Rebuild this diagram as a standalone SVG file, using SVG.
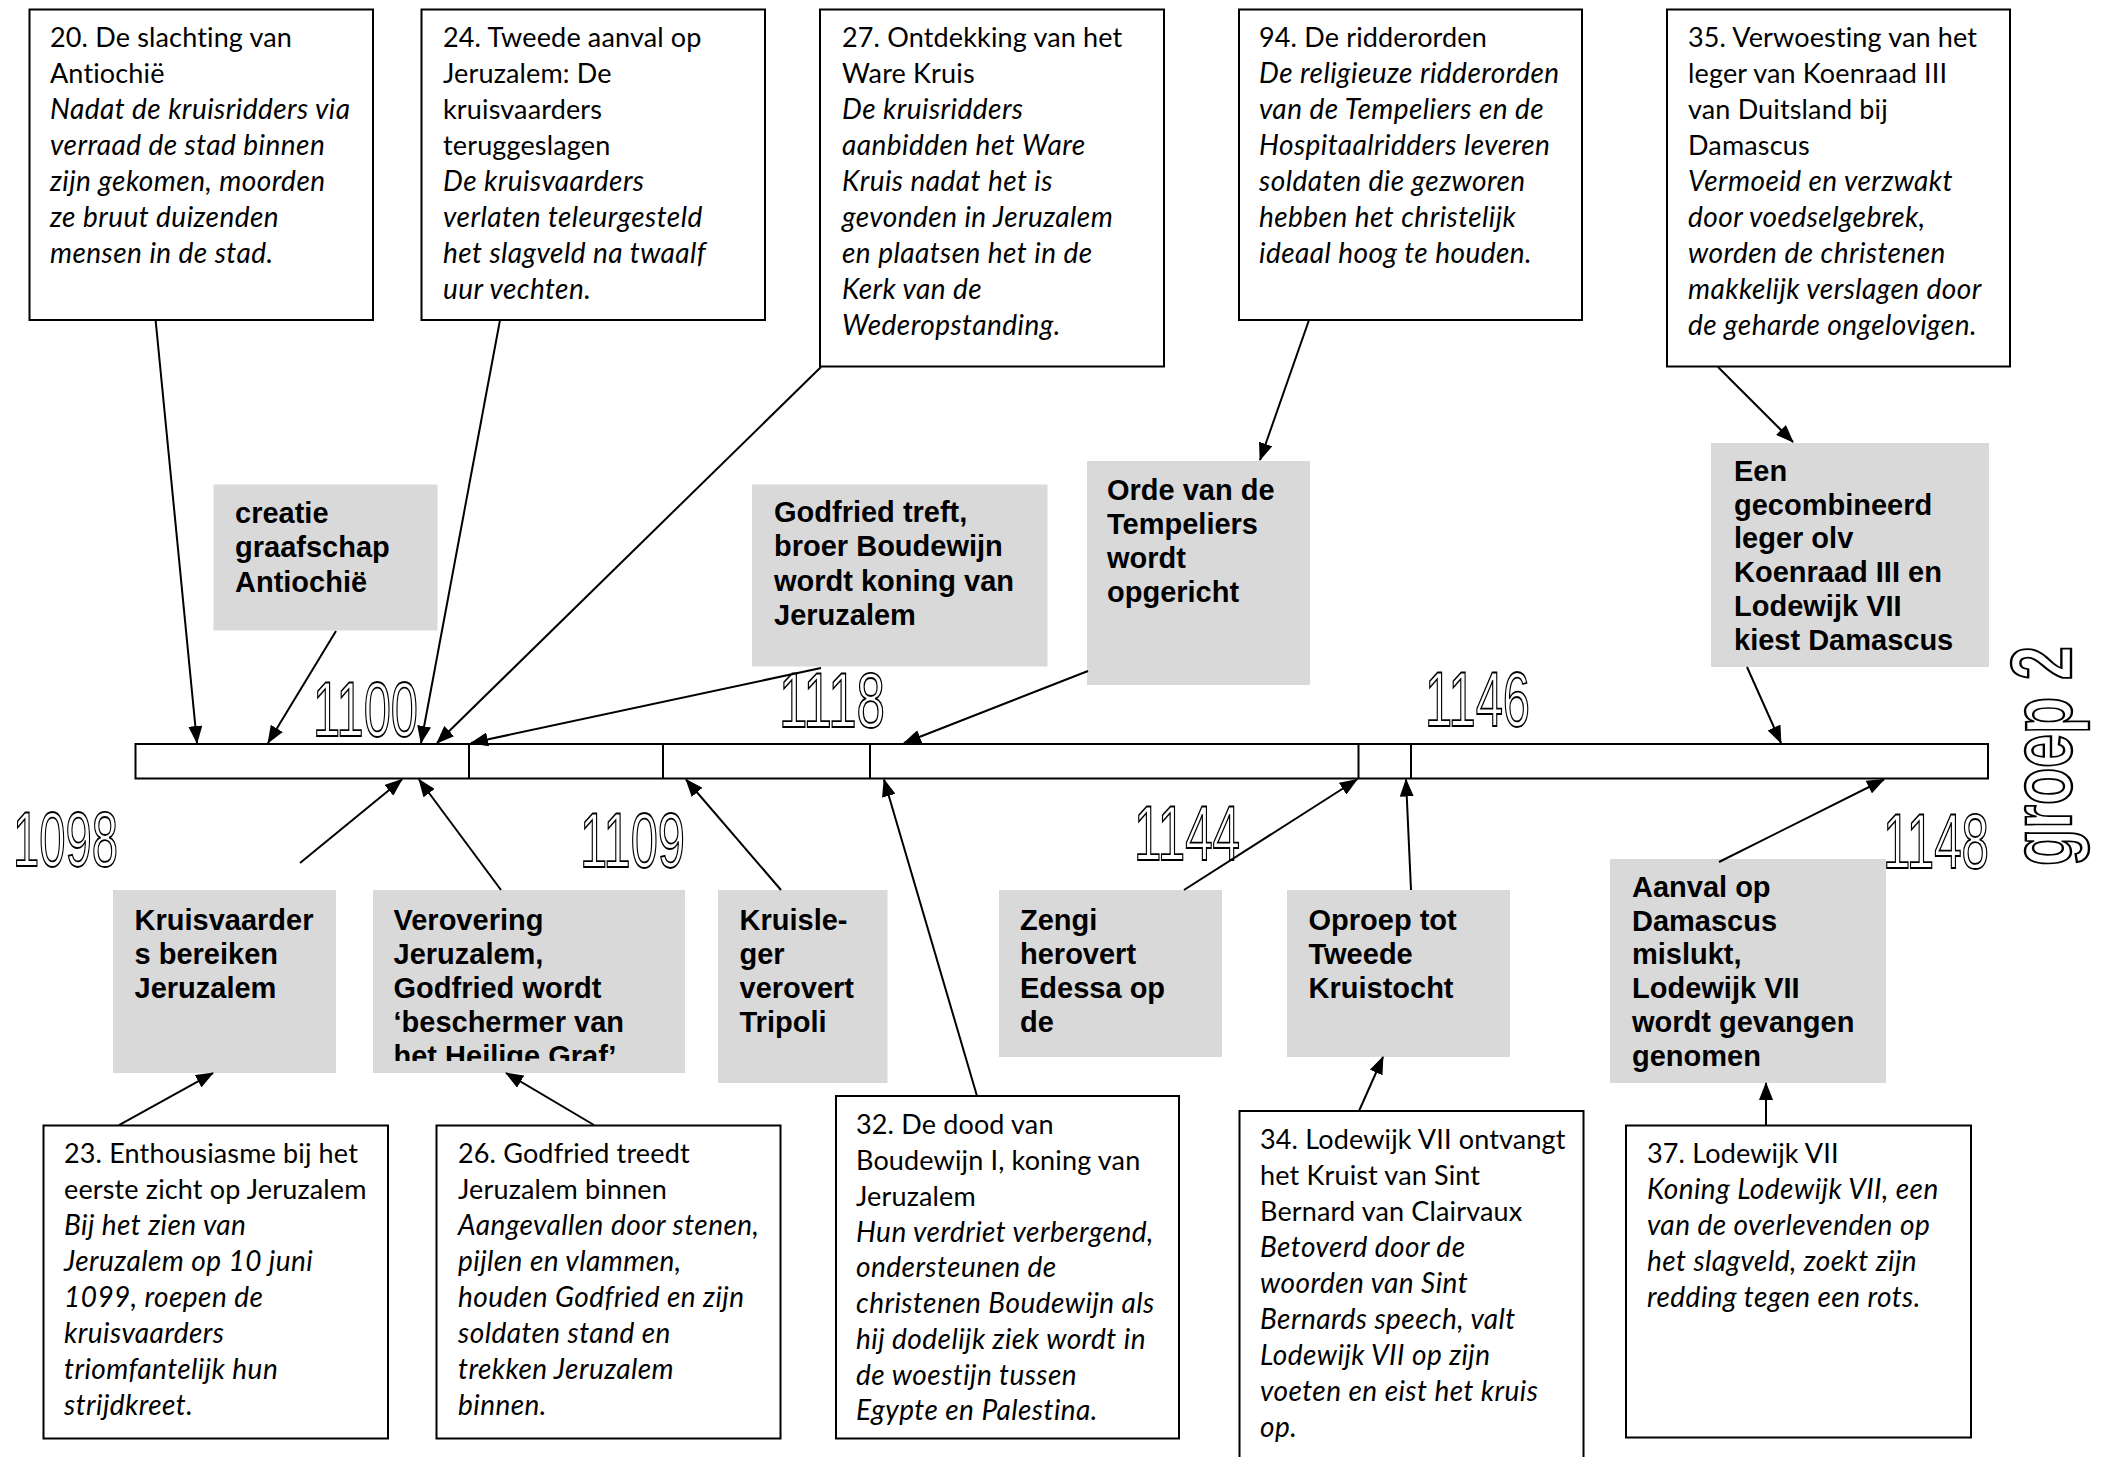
<svg xmlns="http://www.w3.org/2000/svg" width="2105" height="1457" viewBox="0 0 2105 1457">
<style>
.box{fill:#fff;stroke:#000;stroke-width:2}
.gbox{fill:#d9d9d9}
.t{font-family:Lato,"Noto Sans",sans-serif;font-size:27px;letter-spacing:0.15px;fill:#000}
.i{font-style:italic;font-size:28px;letter-spacing:0.45px}
.b{font-family:"Liberation Sans",Arial,sans-serif;font-weight:bold;font-size:29px;fill:#000}
.yr{font-family:"Liberation Sans",Arial,sans-serif;font-size:78px;fill:#fff;stroke:#000;stroke-width:1.8}
.c{stroke:#000;stroke-width:2;fill:none;marker-end:url(#ah)}
</style>
<defs>
<marker id="ah" markerUnits="userSpaceOnUse" markerWidth="18" markerHeight="14" refX="17" refY="7" orient="auto">
<path d="M0,0 L18,7 L0,14 z" fill="#000"/>
</marker>
<clipPath id="clipVer"><rect x="373" y="890" width="312" height="171"/></clipPath>
</defs>
<rect width="2105" height="1457" fill="#fff"/>

<g id="timeline">
<rect x="135.5" y="744" width="1852.5" height="34.5" fill="#fff" stroke="#000" stroke-width="2"/>
<line x1="469" y1="744" x2="469" y2="778.5" stroke="#000" stroke-width="2"/>
<line x1="663" y1="744" x2="663" y2="778.5" stroke="#000" stroke-width="2"/>
<line x1="870" y1="744" x2="870" y2="778.5" stroke="#000" stroke-width="2"/>
<line x1="1358.5" y1="744" x2="1358.5" y2="778.5" stroke="#000" stroke-width="2"/>
<line x1="1411" y1="744" x2="1411" y2="778.5" stroke="#000" stroke-width="2"/>
</g>

<g id="years">
<text class="yr" x="13" y="866" textLength="105" lengthAdjust="spacingAndGlyphs">1098</text>
<text class="yr" x="313" y="735.5" textLength="105" lengthAdjust="spacingAndGlyphs">1100</text>
<text class="yr" x="580" y="867" textLength="105" lengthAdjust="spacingAndGlyphs">1109</text>
<text class="yr" x="779" y="726.5" textLength="106" lengthAdjust="spacingAndGlyphs">1118</text>
<text class="yr" x="1134" y="859.5" textLength="106" lengthAdjust="spacingAndGlyphs">1144</text>
<text class="yr" x="1425" y="726" textLength="105" lengthAdjust="spacingAndGlyphs">1146</text>
<text class="yr" x="1883" y="868" textLength="106" lengthAdjust="spacingAndGlyphs">1148</text>
<text transform="translate(2071,866) rotate(-90)" x="0" y="0" textLength="220" lengthAdjust="spacingAndGlyphs" style="font-family:'Liberation Sans',Arial,sans-serif;font-weight:bold;font-size:86px;fill:#fff;stroke:#000;stroke-width:2.4">groep 2</text>
</g>

<g id="box20">
<rect class="box" x="29.5" y="9.5" width="343.5" height="310.5"/>
<text class="t"><tspan x="50" y="47">20. De slachting van</tspan><tspan x="50" y="83">Antiochië</tspan><tspan class="i" x="50" y="119">Nadat de kruisridders via</tspan><tspan class="i" x="50" y="155">verraad de stad binnen</tspan><tspan class="i" x="50" y="191">zijn gekomen, moorden</tspan><tspan class="i" x="50" y="227">ze bruut duizenden</tspan><tspan class="i" x="50" y="263">mensen in de stad.</tspan></text>
</g>
<g id="box24">
<rect class="box" x="421.5" y="9.5" width="343.5" height="310.5"/>
<text class="t"><tspan x="443" y="47">24. Tweede aanval op</tspan><tspan x="443" y="83">Jeruzalem: De</tspan><tspan x="443" y="119">kruisvaarders</tspan><tspan x="443" y="155">teruggeslagen</tspan><tspan class="i" x="443" y="191">De kruisvaarders</tspan><tspan class="i" x="443" y="227">verlaten teleurgesteld</tspan><tspan class="i" x="443" y="263">het slagveld na twaalf</tspan><tspan class="i" x="443" y="299">uur vechten.</tspan></text>
</g>
<g id="box27">
<rect class="box" x="820" y="9.5" width="344" height="357"/>
<text class="t"><tspan x="842" y="47">27. Ontdekking van het</tspan><tspan x="842" y="83">Ware Kruis</tspan><tspan class="i" x="842" y="119">De kruisridders</tspan><tspan class="i" x="842" y="155">aanbidden het Ware</tspan><tspan class="i" x="842" y="191">Kruis nadat het is</tspan><tspan class="i" x="842" y="227">gevonden in Jeruzalem</tspan><tspan class="i" x="842" y="263">en plaatsen het in de</tspan><tspan class="i" x="842" y="299">Kerk van de</tspan><tspan class="i" x="842" y="335">Wederopstanding.</tspan></text>
</g>
<g id="box94">
<rect class="box" x="1239" y="9.5" width="343" height="310.5"/>
<text class="t"><tspan x="1259" y="47">94. De ridderorden</tspan><tspan class="i" x="1259" y="83">De religieuze ridderorden</tspan><tspan class="i" x="1259" y="119">van de Tempeliers en de</tspan><tspan class="i" x="1259" y="155">Hospitaalridders leveren</tspan><tspan class="i" x="1259" y="191">soldaten die gezworen</tspan><tspan class="i" x="1259" y="227">hebben het christelijk</tspan><tspan class="i" x="1259" y="263">ideaal hoog te houden.</tspan></text>
</g>
<g id="box35">
<rect class="box" x="1667" y="9.5" width="343" height="357"/>
<text class="t"><tspan x="1688" y="47">35. Verwoesting van het</tspan><tspan x="1688" y="83">leger van Koenraad III</tspan><tspan x="1688" y="119">van Duitsland bij</tspan><tspan x="1688" y="155">Damascus</tspan><tspan class="i" x="1688" y="191">Vermoeid en verzwakt</tspan><tspan class="i" x="1688" y="227">door voedselgebrek,</tspan><tspan class="i" x="1688" y="263">worden de christenen</tspan><tspan class="i" x="1688" y="299">makkelijk verslagen door</tspan><tspan class="i" x="1688" y="335">de geharde ongelovigen.</tspan></text>
</g>

<g id="creatie">
<rect class="gbox" x="213.5" y="484.5" width="224" height="146"/>
<text class="b"><tspan x="235" y="522.5">creatie</tspan><tspan x="235" y="557">graafschap</tspan><tspan x="235" y="591.5">Antiochië</tspan></text>
</g>
<g id="godfried">
<rect class="gbox" x="752" y="484.5" width="295.5" height="182"/>
<text class="b"><tspan x="774" y="521.5">Godfried treft,</tspan><tspan x="774" y="556">broer Boudewijn</tspan><tspan x="774" y="590.5">wordt koning van</tspan><tspan x="774" y="625">Jeruzalem</tspan></text>
</g>
<g id="orde">
<rect class="gbox" x="1087" y="461" width="223" height="224"/>
<text class="b"><tspan x="1107" y="499.5">Orde van de</tspan><tspan x="1107" y="533.5">Tempeliers</tspan><tspan x="1107" y="567.5">wordt</tspan><tspan x="1107" y="601.5">opgericht</tspan></text>
</g>
<g id="een">
<rect class="gbox" x="1711" y="443" width="278" height="224"/>
<text class="b"><tspan x="1734" y="481">Een</tspan><tspan x="1734" y="514.7">gecombineerd</tspan><tspan x="1734" y="548.4">leger olv</tspan><tspan x="1734" y="582.1">Koenraad III en</tspan><tspan x="1734" y="615.8">Lodewijk VII</tspan><tspan x="1734" y="649.5">kiest Damascus</tspan></text>
</g>

<g id="kruisvaarders">
<rect class="gbox" x="113" y="890" width="223" height="183"/>
<text class="b"><tspan x="134.5" y="930">Kruisvaarder</tspan><tspan x="134.5" y="964">s bereiken</tspan><tspan x="134.5" y="998">Jeruzalem</tspan></text>
</g>
<g id="verovering">
<rect class="gbox" x="373" y="890" width="312" height="183"/>
<text class="b" clip-path="url(#clipVer)"><tspan x="393.5" y="930">Verovering</tspan><tspan x="393.5" y="964">Jeruzalem,</tspan><tspan x="393.5" y="998">Godfried wordt</tspan><tspan x="393.5" y="1032">‘beschermer van</tspan><tspan x="393.5" y="1066">het Heilige Graf’</tspan></text>
</g>
<g id="kruisleger">
<rect class="gbox" x="718" y="890" width="169.5" height="193"/>
<text class="b"><tspan x="739.5" y="930">Kruisle-</tspan><tspan x="739.5" y="964">ger</tspan><tspan x="739.5" y="998">verovert</tspan><tspan x="739.5" y="1032">Tripoli</tspan></text>
</g>
<g id="zengi">
<rect class="gbox" x="999" y="890" width="223" height="167"/>
<text class="b"><tspan x="1020" y="930">Zengi</tspan><tspan x="1020" y="964">herovert</tspan><tspan x="1020" y="998">Edessa op</tspan><tspan x="1020" y="1032">de</tspan></text>
</g>
<g id="oproep">
<rect class="gbox" x="1287" y="890" width="223" height="167"/>
<text class="b"><tspan x="1308.5" y="930">Oproep tot</tspan><tspan x="1308.5" y="964">Tweede</tspan><tspan x="1308.5" y="998">Kruistocht</tspan></text>
</g>
<g id="aanval">
<rect class="gbox" x="1610" y="859" width="276" height="224"/>
<text class="b"><tspan x="1632" y="897">Aanval op</tspan><tspan x="1632" y="930.7">Damascus</tspan><tspan x="1632" y="964.4">mislukt,</tspan><tspan x="1632" y="998.1">Lodewijk VII</tspan><tspan x="1632" y="1031.8">wordt gevangen</tspan><tspan x="1632" y="1065.5">genomen</tspan></text>
</g>

<g id="box23">
<rect class="box" x="43.5" y="1125.5" width="344.5" height="313"/>
<text class="t"><tspan x="64" y="1163">23. Enthousiasme bij het</tspan><tspan x="64" y="1199">eerste zicht op Jeruzalem</tspan><tspan class="i" x="64" y="1235">Bij het zien van</tspan><tspan class="i" x="64" y="1271">Jeruzalem op 10 juni</tspan><tspan class="i" x="64" y="1307">1099, roepen de</tspan><tspan class="i" x="64" y="1343">kruisvaarders</tspan><tspan class="i" x="64" y="1379">triomfantelijk hun</tspan><tspan class="i" x="64" y="1415">strijdkreet.</tspan></text>
</g>
<g id="box26">
<rect class="box" x="436.5" y="1125.5" width="344" height="313"/>
<text class="t"><tspan x="458" y="1163">26. Godfried treedt</tspan><tspan x="458" y="1199">Jeruzalem binnen</tspan><tspan class="i" x="458" y="1235">Aangevallen door stenen,</tspan><tspan class="i" x="458" y="1271">pijlen en vlammen,</tspan><tspan class="i" x="458" y="1307">houden Godfried en zijn</tspan><tspan class="i" x="458" y="1343">soldaten stand en</tspan><tspan class="i" x="458" y="1379">trekken Jeruzalem</tspan><tspan class="i" x="458" y="1415">binnen.</tspan></text>
</g>
<g id="box32">
<rect class="box" x="836" y="1096" width="343" height="342.5"/>
<text class="t"><tspan x="856" y="1134">32. De dood van</tspan><tspan x="856" y="1170">Boudewijn I, koning van</tspan><tspan x="856" y="1206">Jeruzalem</tspan><tspan class="i" x="856" y="1242">Hun verdriet verbergend,</tspan><tspan class="i" x="856" y="1277">ondersteunen de</tspan><tspan class="i" x="856" y="1313">christenen Boudewijn als</tspan><tspan class="i" x="856" y="1349">hij dodelijk ziek wordt in</tspan><tspan class="i" x="856" y="1385">de woestijn tussen</tspan><tspan class="i" x="856" y="1420">Egypte en Palestina.</tspan></text>
</g>
<g id="box34">
<rect class="box" x="1239.5" y="1111" width="344" height="360"/>
<text class="t"><tspan x="1260" y="1149">34. Lodewijk VII ontvangt</tspan><tspan x="1260" y="1185">het Kruist van Sint</tspan><tspan x="1260" y="1221">Bernard van Clairvaux</tspan><tspan class="i" x="1260" y="1257">Betoverd door de</tspan><tspan class="i" x="1260" y="1293">woorden van Sint</tspan><tspan class="i" x="1260" y="1329">Bernards speech, valt</tspan><tspan class="i" x="1260" y="1365">Lodewijk VII op zijn</tspan><tspan class="i" x="1260" y="1401">voeten en eist het kruis</tspan><tspan class="i" x="1260" y="1437">op.</tspan></text>
</g>
<g id="box37">
<rect class="box" x="1626" y="1125.5" width="345" height="312"/>
<text class="t"><tspan x="1647" y="1163">37. Lodewijk VII</tspan><tspan class="i" x="1647" y="1199">Koning Lodewijk VII, een</tspan><tspan class="i" x="1647" y="1235">van de overlevenden op</tspan><tspan class="i" x="1647" y="1271">het slagveld, zoekt zijn</tspan><tspan class="i" x="1647" y="1307">redding tegen een rots.</tspan></text>
</g>

<g id="connectors">
<line class="c" x1="155.6" y1="320" x2="197" y2="743"/>
<line class="c" x1="336" y1="631" x2="268" y2="743"/>
<line class="c" x1="500" y1="320" x2="421" y2="743"/>
<line class="c" x1="821" y1="367" x2="437" y2="743"/>
<line class="c" x1="821" y1="668" x2="471" y2="743"/>
<line class="c" x1="1088" y1="671" x2="904" y2="743"/>
<line class="c" x1="1309" y1="320" x2="1260" y2="460"/>
<line class="c" x1="1718" y1="367" x2="1793" y2="442"/>
<line class="c" x1="1747" y1="667" x2="1781" y2="743"/>
<line class="c" x1="300" y1="863" x2="402" y2="779.5"/>
<line class="c" x1="501" y1="890" x2="419" y2="779.5"/>
<line class="c" x1="781" y1="890" x2="686" y2="779.5"/>
<line class="c" x1="977" y1="1096" x2="884" y2="779.5"/>
<line class="c" x1="1184" y1="890" x2="1357" y2="779.5"/>
<line class="c" x1="1411" y1="890" x2="1406" y2="779.5"/>
<line class="c" x1="1719" y1="862" x2="1884" y2="779.5"/>
<line class="c" x1="119" y1="1125" x2="213" y2="1073"/>
<line class="c" x1="594" y1="1125" x2="506" y2="1073"/>
<line class="c" x1="1359" y1="1111" x2="1383" y2="1057"/>
<line class="c" x1="1766" y1="1125" x2="1766" y2="1083"/>
</g>
</svg>
